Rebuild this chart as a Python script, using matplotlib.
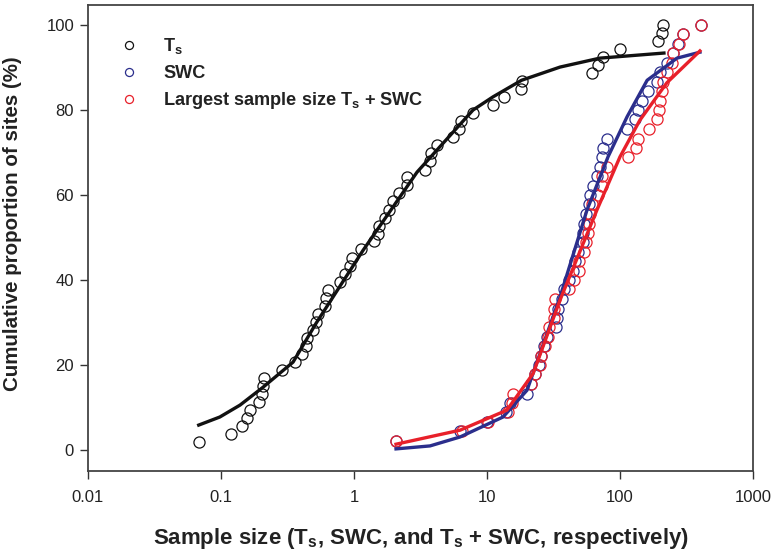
import matplotlib
matplotlib.use("Agg")
import matplotlib.pyplot as plt

plt.rcParams['font.family'] = ['Liberation Sans', 'DejaVu Sans']
plt.rcParams['mathtext.fontset'] = 'custom'
plt.rcParams['mathtext.rm'] = 'Liberation Sans'
plt.rcParams['mathtext.bf'] = 'Liberation Sans:bold'

# ---- data: Ts (black) ----
ts_x = [0.068, 0.119, 0.144, 0.157, 0.165, 0.193, 0.205, 0.207, 0.211, 0.288,
        0.360, 0.406, 0.435, 0.443, 0.492, 0.518, 0.536, 0.605, 0.615, 0.638,
        0.785, 0.855, 0.933, 0.966, 1.13, 1.41, 1.51, 1.54, 1.71, 1.83,
        1.96, 2.18, 2.50, 2.52, 3.42, 3.73, 3.79, 4.21, 5.55, 6.16,
        6.38, 7.85, 11.1, 13.4, 18.0, 18.3, 61.5, 68.4, 74.5, 100,
        193, 207, 211]
ts_y = [1.9, 3.8, 5.7, 7.5, 9.4, 11.3, 13.2, 15.1, 17.0, 18.9,
        20.8, 22.6, 24.5, 26.4, 28.3, 30.2, 32.1, 34.0, 35.8, 37.7,
        39.6, 41.5, 43.4, 45.3, 47.2, 49.1, 50.9, 52.8, 54.7, 56.6,
        58.5, 60.4, 62.3, 64.2, 66.0, 67.9, 69.8, 71.7, 73.6, 75.5,
        77.4, 79.2, 81.1, 83.0, 84.9, 86.8, 88.7, 90.6, 92.5, 94.3,
        96.2, 98.1, 100.0]

# ---- data: SWC (blue) ----
swc_x = [2.07, 6.3, 10.0, 14.0, 15.0, 20.0, 21.5, 23.0, 24.5, 25.5,
         27.0, 28.5, 33.0, 33.5, 34.0, 36.5, 38.0, 41.4, 44.0, 46.0,
         48.0, 52.5, 53.0, 54.0, 55.5, 58.9, 59.5, 62.7, 67.1, 70.8,
         73.3, 74.5, 79.9, 113, 130, 137, 146, 163, 190, 200,
         226, 250, 273, 298, 406]
# ---- data: largest sample size Ts + SWC (red) ----
both_x = [2.07, 6.49, 10.2, 14.4, 15.4, 15.8, 21.4, 23.0, 25.0, 25.6,
          27.3, 28.6, 29.2, 31.9, 32.0, 32.6, 41.4, 45.1, 49.2, 49.5,
          53.6, 55.2, 57.5, 58.4, 59.5, 61.6, 68.4, 73.3, 73.5, 79.9,
          115, 132, 137, 165, 190, 195, 200, 207, 211, 226,
          246, 251, 278, 298, 406]
rank45_y = [2.2, 4.4, 6.7, 8.9, 11.1, 13.3, 15.6, 17.8, 20.0, 22.2,
            24.4, 26.7, 28.9, 31.1, 33.3, 35.6, 37.8, 40.0, 42.2, 44.4,
            46.7, 48.9, 51.1, 53.3, 55.6, 57.8, 60.0, 62.2, 64.4, 66.7,
            68.9, 71.1, 73.3, 75.6, 77.8, 80.0, 82.2, 84.4, 86.7, 88.9,
            91.1, 93.3, 95.6, 97.8, 100.0]
swc_y = rank45_y
both_y = rank45_y

# ---- fitted curves ----
ts_fit_x = [0.068, 0.098, 0.139, 0.207, 0.348, 0.52, 1.17, 2.98, 7.85, 11.1, 18.2, 35.4, 70.4, 214]
ts_fit_y = [5.9, 7.8, 10.6, 14.8, 20.7, 29.9, 47.0, 65.4, 80.0, 83.1, 87.0, 90.1, 92.2, 93.4]
swc_fit_x = [2.07, 3.73, 6.27, 13.2, 20, 35.4, 56.5, 81.3, 113, 160, 268, 399]
swc_fit_y = [0.3, 1.0, 3.1, 7.8, 14.1, 36.0, 56.5, 69.0, 78.4, 87.0, 92.2, 93.6]
both_fit_x = [2.07, 6.27, 14.1, 22.2, 35.4, 67.1, 100, 141, 225, 399]
both_fit_y = [1.4, 4.7, 9.4, 18.0, 35.3, 56.5, 69.0, 77.6, 86.4, 93.9]

x_ticks = [0.01, 0.1, 1, 10, 100, 1000]
x_tick_labels = ['0.01', '0.1', '1', '10', '100', '1000']
y_ticks = [0, 20, 40, 60, 80, 100]

BLACK = '#111111'
BLUE = '#2b2e8c'
RED = '#e8202a'
TEXT = '#222222'

fig = plt.figure(figsize=(7.77, 5.58), dpi=100)
ax = fig.add_axes([88/777, 1-471/558, (753-88)/777, (471-5)/558])

ms = 8.0
mew = 0.9
ax.plot(ts_x, ts_y, 'o', mfc='none', mec=BLACK, ms=ms, mew=mew, zorder=3)
ax.plot(swc_x, swc_y, 'o', mfc='none', mec=BLUE, ms=ms, mew=mew, zorder=3)
ax.plot(both_x, both_y, 'o', mfc='none', mec=RED, ms=ms, mew=mew, zorder=4)

ax.plot(ts_fit_x, ts_fit_y, '-', color=BLACK, lw=2.4, zorder=5)
ax.plot(swc_fit_x, swc_fit_y, '-', color=BLUE, lw=2.4, zorder=5)
ax.plot(both_fit_x, both_fit_y, '-', color=RED, lw=2.4, zorder=6)

ax.set_xscale('log')
ax.set_xlim(0.01, 1000)
ax.set_ylim(-4.9, 104.7)
ax.set_xticks(x_ticks)
ax.set_xticklabels(x_tick_labels)
ax.minorticks_off()
ax.set_yticks(y_ticks)
ax.tick_params(axis='both', direction='out', length=6, width=1.0, color='#333333',
               labelsize=12, pad=4, top=False, right=False, labelcolor=TEXT)
ax.tick_params(axis='x', pad=8)
for sp in ax.spines.values():
    sp.set_color('#444444')
    sp.set_linewidth(1.3)

ax.set_xlabel(r'Sample size (T$_\mathregular{s}$, SWC, and T$_\mathregular{s}$ + SWC, respectively)',
              fontsize=16, fontweight='bold', labelpad=15, color=TEXT)
ax.set_ylabel('Cumulative proportion of sites (%)', fontsize=14.8, fontweight='bold', color=TEXT)
ax.yaxis.set_label_coords(-0.099, 0.530)

# legend (manual placement)
leg_colors = [BLACK, BLUE, RED]
leg_labels = [r'T$_\mathregular{s}$', 'SWC', r'Largest sample size T$_\mathregular{s}$ + SWC']
leg_rows = [0.914, 0.856, 0.798]
for c, lab, yr in zip(leg_colors, leg_labels, leg_rows):
    ax.plot([0.0617], [yr], 'o', mfc='none', mec=c, ms=5.8, mew=0.9,
            transform=ax.transAxes, clip_on=False)
    ax.text(0.1128, yr - 0.0125, lab, transform=ax.transAxes, fontsize=13.1,
            fontweight='bold', va='baseline', ha='left', color=TEXT)

fig.savefig('out.png', dpi=100)
